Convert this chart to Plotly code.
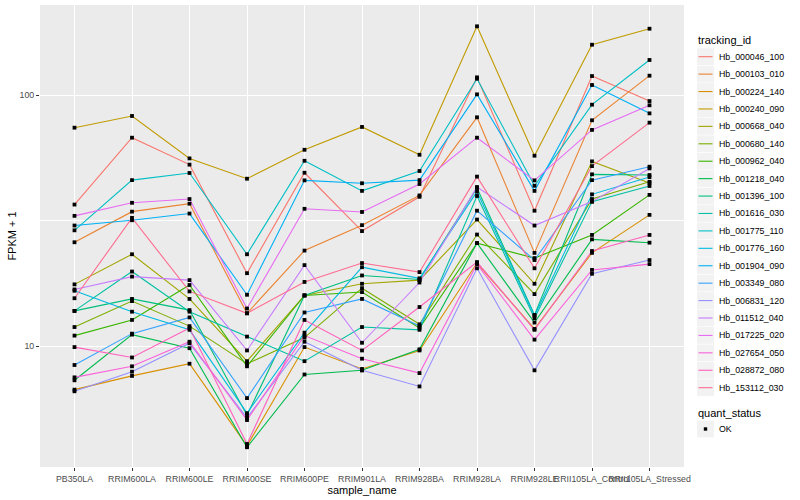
import plotly.graph_objects as go

samples = ["PB350LA", "RRIM600LA", "RRIM600LE", "RRIM600SE", "RRIM600PE", "RRIM901LA",
           "RRIM928BA", "RRIM928LA", "RRIM928LE", "RRII105LA_Control", "RRII105LA_Stressed"]

tracking_ids = ["Hb_000046_100", "Hb_000103_010", "Hb_000224_140", "Hb_000240_090", "Hb_000668_040",
                "Hb_000680_140", "Hb_000962_040", "Hb_001218_040", "Hb_001396_100", "Hb_001616_030",
                "Hb_001775_110", "Hb_001776_160", "Hb_001904_090", "Hb_003349_080", "Hb_006831_120",
                "Hb_011512_040", "Hb_017225_020", "Hb_027654_050", "Hb_028872_080", "Hb_153112_030"]

colors = ["#F8766D", "#EA8331", "#D89000", "#C09B00", "#A3A500", "#7CAE00", "#39B600", "#00BB4E",
          "#00BF7D", "#00C1A3", "#00BFC4", "#00BAE0", "#00B0F6", "#35A2FF", "#9590FF", "#C77CFF",
          "#E76BF3", "#FA62DB", "#FF62BC", "#FF6C91"]

# FPKM + 1 per sample, in the order of `samples`
hb_000046_100 = [36.6, 67.6, 52.8, 19.5, 49.0, 28.7, 39.3, 117.6, 34.6, 119.0, 94.6]
hb_000103_010 = [25.9, 34.3, 36.9, 13.5, 24.0, 30.3, 39.8, 81.5, 23.5, 79.3, 119.4]
hb_000224_140 = [6.7, 7.6, 8.5, 4.0, 9.9, 8.1, 9.6, 21.4, 11.7, 23.5, 33.3]
hb_000240_090 = [74.1, 82.5, 55.9, 46.4, 60.5, 74.6, 57.8, 187.8, 57.3, 158.6, 183.7]
hb_000668_040 = [17.6, 23.2, 15.4, 8.7, 15.9, 17.7, 18.3, 31.9, 17.7, 54.4, 44.6]
hb_000680_140 = [11.9, 15.1, 12.0, 8.5, 10.8, 17.0, 12.2, 27.8, 16.1, 38.5, 45.1]
hb_000962_040 = [11.0, 12.7, 17.5, 8.3, 15.9, 16.4, 11.8, 25.7, 22.4, 27.7, 40.0]
hb_001218_040 = [7.3, 11.1, 9.8, 3.95, 7.7, 8.0, 9.7, 25.7, 12.4, 26.6, 25.8]
hb_001396_100 = [13.8, 15.4, 13.9, 5.3, 15.9, 19.1, 18.4, 42.6, 13.3, 48.3, 48.0]
hb_001616_030 = [13.8, 19.8, 13.7, 10.9, 8.7, 11.9, 11.6, 39.6, 12.9, 37.6, 43.4]
hb_001775_110 = [28.9, 45.8, 48.9, 23.2, 54.7, 41.5, 49.8, 116.1, 43.5, 91.5, 137.9]
hb_001776_160 = [16.6, 13.7, 11.6, 5.4, 11.3, 20.6, 18.6, 41.2, 13.2, 40.2, 47.1]
hb_001904_090 = [30.2, 31.7, 33.7, 16.0, 45.7, 44.5, 45.8, 100.6, 41.5, 109.6, 84.5]
hb_003349_080 = [8.4, 11.2, 13.0, 6.2, 13.6, 15.4, 12.0, 34.6, 22.0, 45.8, 51.8]
hb_006831_120 = [6.6, 7.9, 10.25, 5.17, 10.4, 8.0, 6.9, 20.4, 8.0, 19.4, 22.0]
hb_011512_040 = [16.8, 18.9, 18.3, 9.6, 21.0, 10.3, 17.9, 43.0, 30.2, 37.6, 51.0]
hb_017225_020 = [33.0, 37.2, 38.5, 14.1, 35.2, 34.2, 44.2, 67.6, 45.7, 72.6, 91.0]
hb_027654_050 = [7.5, 8.3, 10.4, 5.07, 11.0, 8.9, 7.8, 21.2, 10.6, 20.1, 21.2]
hb_028872_080 = [9.9, 9.0, 11.8, 4.07, 12.7, 9.6, 14.3, 21.6, 11.6, 23.9, 27.7]
hb_153112_030 = [15.5, 32.4, 16.5, 13.5, 18.0, 21.4, 19.7, 47.3, 20.4, 52.1, 77.6]

series = [hb_000046_100, hb_000103_010, hb_000224_140, hb_000240_090, hb_000668_040,
          hb_000680_140, hb_000962_040, hb_001218_040, hb_001396_100, hb_001616_030,
          hb_001775_110, hb_001776_160, hb_001904_090, hb_003349_080, hb_006831_120,
          hb_011512_040, hb_017225_020, hb_027654_050, hb_028872_080, hb_153112_030]

quant_status = ["OK"]

W, H = 800, 500
L, R, T, B = 40, 116, 5, 33
PW, PH = W - L - R, H - T - B
FONT = "Liberation Sans, Arial, sans-serif"

fig = go.Figure()

for name, vals, col in zip(tracking_ids, series, colors):
    fig.add_trace(go.Scatter(x=samples, y=vals, mode="lines", name=name,
                             line=dict(color=col, width=1.1), showlegend=False))
for name, vals in zip(tracking_ids, series):
    fig.add_trace(go.Scatter(x=samples, y=vals, mode="markers", name=name,
                             marker=dict(symbol="square", size=3.8, color="black"),
                             showlegend=False))


def px(x):
    return (x - L) / PW


def py(y):
    return (H - B - y) / PH


shapes = []
annotations = []

# manual ggplot-style legend
annotations.append(dict(x=px(696), y=py(40.5), xref="paper", yref="paper", text="tracking_id",
                        showarrow=False, xanchor="left", yanchor="middle",
                        font=dict(size=11, color="black", family=FONT)))
step = 17.42
for i, (name, col) in enumerate(zip(tracking_ids, colors)):
    c = 56.7 + step * i
    shapes.append(dict(type="rect", xref="paper", yref="paper", x0=px(697), x1=px(714),
                       y0=py(c + 8.4), y1=py(c - 8.4), fillcolor="#F2F2F2", line=dict(width=0),
                       layer="above"))
    shapes.append(dict(type="line", xref="paper", yref="paper", x0=px(698.5), x1=px(712.5),
                       y0=py(c), y1=py(c), line=dict(color=col, width=1.1), layer="above"))
    annotations.append(dict(x=px(716.5), y=py(c), xref="paper", yref="paper", text=name,
                            showarrow=False, xanchor="left", yanchor="middle",
                            font=dict(size=8.8, color="black", family=FONT)))

annotations.append(dict(x=px(696), y=py(412.5), xref="paper", yref="paper", text="quant_status",
                        showarrow=False, xanchor="left", yanchor="middle",
                        font=dict(size=11, color="black", family=FONT)))
c = 429
shapes.append(dict(type="rect", xref="paper", yref="paper", x0=px(697), x1=px(714),
                   y0=py(c + 8.4), y1=py(c - 8.4), fillcolor="#F2F2F2", line=dict(width=0),
                   layer="above"))
shapes.append(dict(type="rect", xref="paper", yref="paper", x0=px(703.8), x1=px(707.2),
                   y0=py(c + 1.7), y1=py(c - 1.7), fillcolor="black", line=dict(width=0),
                   layer="above"))
annotations.append(dict(x=px(716.5), y=py(c), xref="paper", yref="paper", text=quant_status[0],
                        showarrow=False, xanchor="left", yanchor="middle",
                        font=dict(size=8.8, color="black", family=FONT)))

fig.update_layout(
    width=W, height=H, autosize=False,
    margin=dict(l=L, r=R, t=T, b=B, pad=0),
    paper_bgcolor="white", plot_bgcolor="#EBEBEB",
    font=dict(family=FONT, color="black"),
    showlegend=False,
    shapes=shapes, annotations=annotations,
    xaxis=dict(type="category", categoryorder="array", categoryarray=samples,
               range=[-0.6, len(samples) - 0.4],
               showgrid=True, gridcolor="white", gridwidth=1.07, zeroline=False, showline=False,
               ticks="outside", ticklen=3, tickwidth=1.07, tickcolor="#333333", tickangle=0,
               tickfont=dict(size=8.8, color="#4D4D4D", family=FONT),
               title=dict(text="sample_name", font=dict(size=11, color="black", family=FONT),
                          standoff=3)),
    yaxis=dict(type="log", range=[0.5179, 2.3586],
               tickvals=[10, 100], ticktext=["10", "100"],
               showgrid=True, gridcolor="white", gridwidth=1.07, zeroline=False, showline=False,
               minor=dict(tickvals=[3.1623, 31.623, 316.23], showgrid=True, gridcolor="white",
                          gridwidth=0.53, ticks=""),
               ticks="outside", ticklen=3, tickwidth=1.07, tickcolor="#333333",
               tickfont=dict(size=8.8, color="#4D4D4D", family=FONT),
               title=dict(text="FPKM + 1", font=dict(size=11, color="black", family=FONT),
                          standoff=0)),
)

fig.write_html("out.html", config={"displayModeBar": False},
               post_script="document.body.style.margin='0px';")
